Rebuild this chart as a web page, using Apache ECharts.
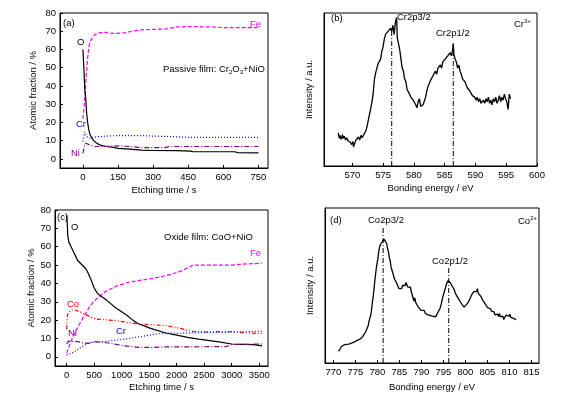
<!DOCTYPE html>
<html lang="en">
<head>
  <meta charset="UTF-8">
  <title>XPS depth profiles and spectra</title>
  <script src="https://cdn.jsdelivr.net/npm/echarts@6.0.0/dist/echarts.min.js"></script>
  <style>
    html, body { margin: 0; padding: 0; background: #fff; }
    #chart { width: 588px; height: 397px; }
  </style>
</head>
<body>
  <div id="chart"></div>
  <script>
    // ---- (a) passive film depth profile: [etching time s, atomic %] ----
    const passiveFe = [[0,22],[5,28],[10,38],[15,47],[20,55],[25,61],[30,64],[40,66.5],[50,68],[60,68.8],[75,69.2],[100,69.4],[115,68.8],[150,68.8],[180,69.2],[210,70],[250,70.8],[300,71],[360,71.3],[400,72.4],[450,72.5],[500,72.5],[560,72.3],[600,72],[700,72],[750,72]];
    const passiveO = [[0,60],[3,52],[5,47],[8,38],[10,36],[13,31],[16,25],[20,20],[25,16],[30,13.5],[40,11],[50,9.5],[60,8.5],[75,7.5],[100,6.8],[130,6.3],[150,5.8],[200,5.4],[250,4.8],[300,4.6],[400,4.5],[460,4.3],[470,4],[650,3.9],[660,3.4],[750,3.3]];
    const passiveCr = [[0,9.5],[5,13],[8,14.8],[12,13.5],[18,12],[25,11],[35,11.2],[50,12],[70,12.2],[100,12.5],[150,12.8],[250,12.8],[300,12.5],[360,12.3],[460,11.8],[600,11.8],[750,11.8]];
    const passiveNi = [[0,3],[5,6],[10,8.5],[20,8.2],[30,7.5],[50,6.8],[100,6.8],[120,7.2],[200,6.8],[250,6.2],[350,6.2],[370,6.8],[500,6.8],[750,6.8]];

    // ---- (c) oxide film depth profile ----
    const oxideO = [[0,77],[10,73],[20,66],[40,62.5],[80,60],[120,57.5],[160,55],[200,52.5],[250,51],[300,49.5],[350,48],[400,45],[450,41.5],[500,37.5],[550,35],[600,33.5],[700,31.5],[800,29],[900,26.5],[1000,24.5],[1100,22.5],[1200,20],[1300,18],[1400,17],[1500,15.8],[1600,14.8],[1800,13],[2000,11.8],[2200,10.6],[2400,9.6],[2600,8.8],[2800,8],[3000,7],[3200,6.8],[3400,6.6],[3550,6]];
    const oxideFe = [[0,2],[50,6],[100,10],[200,16],[300,21.5],[400,26.5],[500,30.5],[600,33],[700,35.5],[800,37],[900,38.5],[1000,39.5],[1100,40.5],[1200,41],[1300,41.5],[1500,42.5],[1700,43.5],[1900,45],[2100,47],[2300,50],[2500,50],[3000,50],[3200,50.5],[3550,51]];
    const oxideCo = [[0,15],[15,23],[50,24.5],[100,25.5],[150,25.5],[250,24.5],[350,23],[450,21.5],[550,20.5],[700,20.2],[900,19.7],[1100,18.8],[1300,18],[1500,17.6],[1800,17],[2000,16],[2200,14.5],[2300,13.8],[2600,13.6],[3000,13.8],[3200,13.2],[3550,12.7]];
    const oxideCr = [[0,1],[100,2],[200,4],[300,6],[400,7.5],[500,8.2],[600,8.2],[800,8.7],[1000,9.5],[1200,10.3],[1400,11.3],[1600,12.3],[1800,13],[2000,12.8],[2400,13.2],[2800,13.3],[3200,13.6],[3550,14]];
    const oxideNi = [[0,7],[30,8.5],[200,8.3],[300,7.6],[400,7.3],[500,8.2],[700,7.8],[900,6.8],[1100,5.8],[1300,5.2],[1500,5.1],[1800,5.4],[2500,5.5],[2900,5.6],[3000,6.7],[3300,6.8],[3550,7]];

    // ---- (b) Cr 2p spectrum: [binding energy eV, intensity a.u.] ----
    const crSpectrum = [[567.7,21.6],[567.9,18],[568.0,20],[568.2,17.5],[568.4,20.5],[568.5,18],[568.7,19.5],[568.9,17],[569.1,18.5],[569.3,16.5],[569.5,17.5],[569.7,15.5],[569.9,14],[570.1,16],[570.2,12.5],[570.4,15],[570.6,17],[570.8,16],[571.0,19],[571.2,17],[571.4,20],[571.6,18.5],[571.8,20],[572.0,20.5],[572.2,23],[572.4,26],[572.6,30],[572.8,31],[573.0,38],[573.2,42],[573.4,48],[573.6,57],[573.8,61],[574.0,64],[574.2,67],[574.4,66],[574.6,70],[574.8,75],[575.0,78],[575.2,83],[575.4,86],[575.6,85],[575.8,88],[576.0,87],[576.2,90],[576.4,88],[576.6,92],[576.8,86],[577.0,94],[577.2,97],[577.3,84],[577.5,80],[577.7,76],[577.9,70],[578.1,64],[578.3,62],[578.5,57],[578.7,55],[578.9,50],[579.1,49],[579.3,47],[579.5,45],[579.7,46],[579.9,43],[580.1,44],[580.3,40],[580.5,38],[580.7,42],[580.9,44],[581.1,39],[581.3,38],[581.5,40],[581.7,39],[581.9,45],[582.1,49],[582.3,52],[582.5,54],[582.7,56],[582.9,55],[583.1,59],[583.3,58],[583.5,62],[583.7,60],[583.9,64],[584.1,63],[584.3,66],[584.5,64],[584.7,68],[584.9,67],[585.1,70],[585.3,69],[585.5,72],[585.7,71],[585.9,74],[586.1,72],[586.3,76],[586.4,80],[586.5,73],[586.7,70],[586.9,68],[587.1,64],[587.3,66],[587.5,62],[587.7,60],[587.9,57],[588.1,58],[588.3,55],[588.5,53],[588.7,51],[588.9,52],[589.1,49],[589.3,48],[589.5,46],[589.7,47],[589.9,45],[590.1,43],[590.3,45],[590.5,42],[590.7,44],[590.9,41],[591.1,40],[591.3,43],[591.5,41],[591.7,44],[591.9,42],[592.1,45],[592.3,41],[592.5,43],[592.7,40],[592.9,44],[593.1,42],[593.3,45],[593.5,41],[593.7,43],[593.9,46],[594.1,42],[594.3,45],[594.5,43],[594.7,47],[594.9,44],[595.1,42],[595.3,37],[595.5,47],[595.7,44]];
    const crPeakLines = [[576.4, 91], [586.4, 80]];

    // ---- (d) Co 2p spectrum ----
    const coSpectrum = [[771.2,7.5],[771.5,9],[771.8,10.5],[772.0,10],[772.3,11.5],[772.6,10.8],[772.9,12],[773.2,11],[773.5,12.2],[773.8,11.5],[774.1,12.8],[774.4,12],[774.7,13.5],[775.0,12.8],[775.3,14.5],[775.6,13.8],[775.9,15.2],[776.2,15],[776.5,16.5],[776.8,17.5],[777.1,19],[777.4,20.5],[777.6,22],[777.9,24],[778.1,27],[778.3,29],[778.5,31],[778.7,35],[778.9,40],[779.1,44],[779.3,50],[779.5,55],[779.7,60],[779.9,64],[780.1,67],[780.3,72],[780.5,75],[780.7,76.5],[780.9,77.5],[781.1,78],[781.3,77],[781.5,80],[781.7,79],[781.9,81],[782.1,77],[782.3,74],[782.5,72],[782.7,68],[782.9,66],[783.1,62],[783.3,60],[783.5,58],[783.7,57],[783.9,54],[784.1,55],[784.3,52],[784.5,51],[784.7,52],[784.9,48],[785.1,47],[785.3,49],[785.5,48],[785.7,50],[785.9,49],[786.1,51],[786.3,50],[786.5,52],[786.7,51],[786.9,49],[787.1,50],[787.3,48],[787.5,49],[787.7,46],[787.9,44],[788.1,43],[788.3,40],[788.5,42],[788.7,39],[788.9,38],[789.1,39],[789.3,36],[789.5,37],[789.7,35],[789.9,34],[790.1,35],[790.3,33],[790.6,34],[790.9,32],[791.2,33],[791.5,31],[791.8,32],[792.1,30.5],[792.4,31.5],[792.7,30],[793.0,31],[793.3,30],[793.6,32],[793.9,33],[794.2,35],[794.5,38],[794.8,42],[795.1,45],[795.4,48],[795.7,51],[796.0,53],[796.3,54],[796.5,52],[796.7,53],[796.9,51],[797.1,49],[797.3,50],[797.5,47],[797.7,45],[797.9,46],[798.1,43],[798.3,42],[798.5,43],[798.7,40],[798.9,41],[799.1,39],[799.3,37.5],[799.5,38.5],[799.7,36],[799.9,37],[800.1,36.5],[800.3,38],[800.5,37],[800.7,39.5],[800.9,40],[801.1,42],[801.3,43],[801.5,44.5],[801.7,45],[801.9,46],[802.1,45.5],[802.3,47],[802.5,46],[802.7,48],[802.9,45],[803.1,46],[803.3,44],[803.5,43],[803.7,42],[803.9,40.5],[804.1,41],[804.3,39],[804.5,38],[804.7,37],[804.9,37.5],[805.1,35.5],[805.3,36],[805.5,34.5],[805.7,35],[805.9,33.5],[806.1,34],[806.3,32.5],[806.5,33],[806.7,31],[806.9,32],[807.1,30.5],[807.3,31.5],[807.5,30],[807.7,32],[807.9,30],[808.1,31],[808.3,29],[808.5,30],[808.7,28],[808.9,29.5],[809.1,28.5],[809.3,31],[809.5,30],[809.7,32],[809.9,30],[810.1,31.5],[810.3,29.5],[810.5,30.5],[810.8,29],[811.1,29.5],[811.5,28]];
    const coPeakLines = [[781.3, 88], [796.2, 62]];

    // tick labels
    const fractionTicks = [0, 10, 20, 30, 40, 50, 60, 70, 80];
    const passiveTimeTicks = [0, 150, 300, 450, 600, 750];
    const oxideTimeTicks = [0, 500, 1000, 1500, 2000, 2500, 3000, 3500];
    const crEnergyTicks = [570, 575, 580, 585, 590, 595, 600];
    const coEnergyTicks = [770, 775, 780, 785, 790, 795, 800, 805, 810, 815];

    const FONT = 'Liberation Sans';
    const labelStyle = { fontSize: 9.5, color: '#000', fontFamily: FONT };

    function frameAxis(extra) {
      return Object.assign({
        type: 'value',
        axisLine: { show: true, onZero: false, lineStyle: { color: '#000', width: 1 } },
        splitLine: { show: false },
        nameTextStyle: { fontSize: 9.5, color: '#000', fontFamily: FONT }
      }, extra);
    }

    function valueAxis(idx, min, max, ticks, name, gap) {
      return frameAxis({
        gridIndex: idx, min: min, max: max, name: name, nameLocation: 'middle', nameGap: gap,
        axisTick: { show: true, inside: true, length: 3, customValues: ticks, lineStyle: { color: '#000' } },
        axisLabel: Object.assign({ customValues: ticks, margin: 4, formatter: v => String(v) }, labelStyle)
      });
    }

    function blankYAxis(idx) {
      return frameAxis({
        gridIndex: idx, min: 0, max: 100, name: 'Intensity / a.u.', nameLocation: 'middle', nameGap: 10,
        axisTick: { show: false }, axisLabel: { show: false }
      });
    }

    function line(name, data, xi, color, type, width) {
      return {
        name: name, type: 'line', xAxisIndex: xi, yAxisIndex: xi, data: data,
        showSymbol: false, symbol: 'none', silent: true,
        lineStyle: { color: color, width: width || 1.2, type: type }
      };
    }

    // vertical dash-dot marker at each peak, from the axis floor up to the marker top
    function peakLines(lines, xi) {
      return lines.map(([e, top]) => line('peak', [[e, 0], [e, top]], xi, '#000', [5, 2, 1, 2], 1));
    }

    function txt(text, x, y, color) {
      return {
        type: 'text', x: x, y: y,
        style: { text: text, fill: color || '#000', fontSize: 9.5, fontFamily: FONT, verticalAlign: 'middle' }
      };
    }

    function richTxt(text, x, y) {
      return {
        type: 'text', x: x, y: y,
        style: {
          text: text, fill: '#000', fontSize: 9.5, fontFamily: FONT, verticalAlign: 'middle',
          rich: {
            n: { fontSize: 9.5, fontFamily: FONT, lineHeight: 12, verticalAlign: 'middle' },
            sub: { fontSize: 6, fontFamily: FONT, lineHeight: 12, verticalAlign: 'bottom', padding: [5, 0, 0, 0] },
            sup: { fontSize: 6, fontFamily: FONT, lineHeight: 12, verticalAlign: 'top', padding: [0, 0, 5, 0] }
          }
        }
      };
    }

    const option = {
      animation: false,
      backgroundColor: '#fff',
      textStyle: { fontFamily: FONT },
      grid: [
        { left: 60, top: 13, width: 208, height: 155, show: true, borderColor: '#000', borderWidth: 1 },
        { left: 324, top: 13, width: 213, height: 153, show: true, borderColor: '#000', borderWidth: 1 },
        { left: 55, top: 210, width: 213, height: 156, show: true, borderColor: '#000', borderWidth: 1 },
        { left: 325, top: 208, width: 214, height: 155, show: true, borderColor: '#000', borderWidth: 1 }
      ],
      xAxis: [
        valueAxis(0, -98, 791, passiveTimeTicks, 'Etching time / s', 17),
        valueAxis(1, 565.4, 600, crEnergyTicks, 'Bonding energy / eV', 17),
        valueAxis(2, -212, 3660, oxideTimeTicks, 'Etching time / s', 16),
        valueAxis(3, 768.1, 816.7, coEnergyTicks, 'Bonding energy / eV', 19)
      ],
      yAxis: [
        valueAxis(0, -5, 80, fractionTicks, 'Atomic fraction / %', 22),
        blankYAxis(1),
        valueAxis(2, -5, 80, fractionTicks, 'Atomic fraction / %', 17),
        blankYAxis(3)
      ],
      series: [
        line('Fe', passiveFe, 0, '#ff00ff', [4, 2]),
        line('O', passiveO, 0, '#000', 'solid'),
        line('Cr', passiveCr, 0, '#0000ff', [1, 2]),
        line('Ni', passiveNi, 0, '#800080', [5, 2, 1, 2]),
        line('Cr 2p', crSpectrum, 1, '#000', 'solid', 1.3),
        ...peakLines(crPeakLines, 1),
        line('Fe', oxideFe, 2, '#ff00ff', [4, 2]),
        line('O', oxideO, 2, '#000', 'solid'),
        line('Co', oxideCo, 2, '#ff0000', [4, 2, 1, 2, 1, 2]),
        line('Cr', oxideCr, 2, '#0000ff', [1, 2]),
        line('Ni', oxideNi, 2, '#800080', [5, 2, 1, 2]),
        line('Co 2p', coSpectrum, 3, '#000', 'solid', 1.3),
        ...peakLines(coPeakLines, 3)
      ],
      graphic: [
        // panel (a)
        txt('(a)', 63, 23), txt('Fe', 250, 24, '#ff00ff'), txt('O', 77, 42),
        richTxt('{n|Passive film: Cr}{sub|2}{n|O}{sub|3}{n|+NiO}', 163, 69),
        txt('Cr', 76, 124, '#0000ff'), txt('Ni', 71, 153, '#800080'),
        // panel (b)
        txt('(b)', 331, 18), txt('Cr2p3/2', 397, 17), txt('Cr2p1/2', 436, 33),
        richTxt('{n|Cr}{sup|3+}', 514, 24),
        // panel (c)
        txt('(c)', 57, 217), txt('O', 71, 227), txt('Oxide film: CoO+NiO', 164, 237),
        txt('Fe', 250, 253, '#ff00ff'), txt('Co', 67, 304, '#ff0000'),
        txt('Cr', 116, 331, '#0000ff'), txt('Ni', 68, 333, '#800080'),
        // panel (d)
        txt('(d)', 330, 220), txt('Co2p3/2', 368, 220), txt('Co2p1/2', 432, 261),
        richTxt('{n|Co}{sup|2+}', 518, 221)
      ]
    };

    const myChart = echarts.init(document.getElementById('chart'));
    myChart.setOption(option);
  </script>
</body>
</html>
